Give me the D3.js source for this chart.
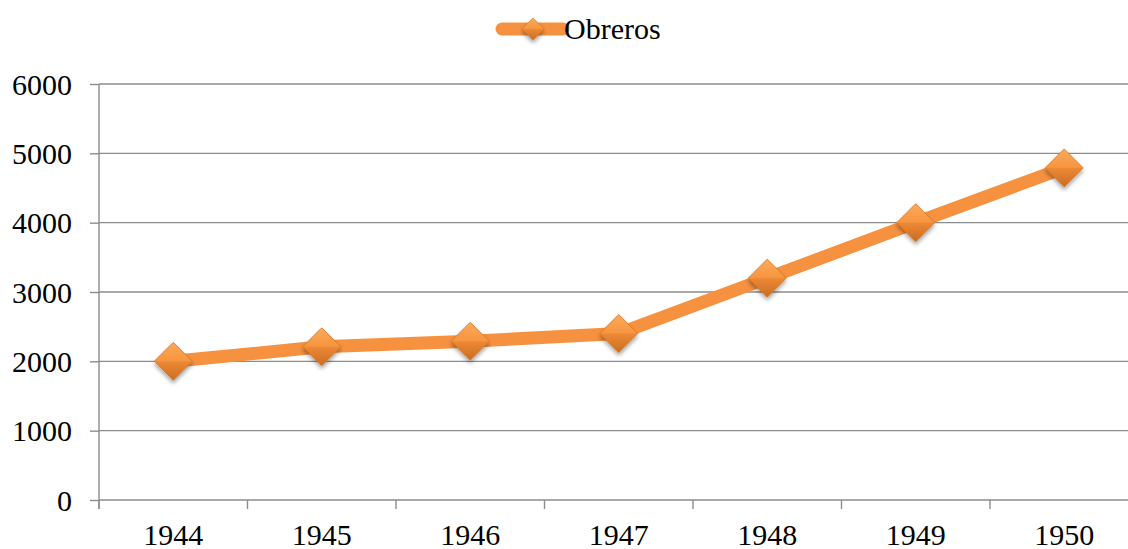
<!DOCTYPE html>
<html>
<head>
<meta charset="utf-8">
<script src="https://cdn.jsdelivr.net/npm/d3@7/dist/d3.min.js"></script>
<style>
  html, body { margin: 0; padding: 0; background: #fff; }
  svg { display: block; }
</style>
</head>
<body>
<svg id="chart" width="1128" height="549"></svg>
<script>
// Obreros por año
const years = ["1944", "1945", "1946", "1947", "1948", "1949", "1950"];
const obreros = [2000, 2210, 2290, 2400, 3200, 4000, 4790];
const yTicks = [0, 1000, 2000, 3000, 4000, 5000, 6000];
const seriesName = "Obreros";

const W = 1128, H = 549;
const plot = { left: 99, right: 1138.5, top: 84, bottom: 500 };
const lineColor = "#F6913F";
const gridColor = "#8C8C8C";
const FONT = "'Liberation Serif'";
const FS = "30px";

const svg = d3.select("#chart");
const defs = svg.append("defs");

// diamond fill: light upper bevel, darker lower half
const grad = defs.append("linearGradient")
  .attr("id", "diamondFill").attr("x1", 0).attr("y1", 0).attr("x2", 0).attr("y2", 1);
grad.append("stop").attr("offset", "0%").attr("stop-color", "#FBA95A");
grad.append("stop").attr("offset", "48%").attr("stop-color", "#F7963F");
grad.append("stop").attr("offset", "52%").attr("stop-color", "#EC8835");
grad.append("stop").attr("offset", "100%").attr("stop-color", "#C96D22");

const shadow = defs.append("filter").attr("id", "markerShadow")
  .attr("x", "-50%").attr("y", "-50%").attr("width", "200%").attr("height", "200%");
shadow.append("feGaussianBlur").attr("in", "SourceAlpha").attr("stdDeviation", 2.2).attr("result", "b");
shadow.append("feOffset").attr("in", "b").attr("dy", 3).attr("result", "o");
shadow.append("feComponentTransfer").attr("in", "o").attr("result", "s")
  .append("feFuncA").attr("type", "linear").attr("slope", 0.35);
const merge = shadow.append("feMerge");
merge.append("feMergeNode").attr("in", "s");
merge.append("feMergeNode").attr("in", "SourceGraphic");

const x = d3.scaleBand().domain(years).range([plot.left, plot.right]).paddingInner(0).paddingOuter(0);
const y = d3.scaleLinear().domain([0, 6000]).range([plot.bottom, plot.top]);

// horizontal gridlines with outward ticks on the value axis
const yAxis = d3.axisLeft(y).tickValues(yTicks).tickSize(9).tickPadding(18).tickFormat(d3.format("d"));
const gy = svg.append("g").attr("transform", `translate(${plot.left},0)`).call(yAxis);
gy.attr("font-family", FONT).attr("font-size", 30);
gy.select(".domain").remove();
gy.selectAll(".tick line").attr("stroke", gridColor).attr("stroke-width", 1.4);
gy.selectAll(".tick text").style("font-family", FONT).style("font-size", FS).attr("fill", "#000").attr("dy", "0.34em");

svg.append("g").selectAll("line").data(yTicks).join("line")
  .attr("x1", plot.left).attr("x2", W)
  .attr("y1", d => y(d)).attr("y2", d => y(d))
  .attr("stroke", gridColor).attr("stroke-width", 1.4);

// vertical value axis line
svg.append("line")
  .attr("x1", plot.left).attr("x2", plot.left)
  .attr("y1", plot.top).attr("y2", plot.bottom + 9)
  .attr("stroke", gridColor).attr("stroke-width", 1.4);

// category boundary ticks
const edges = years.map(d => x(d)).concat([x(years[years.length - 1]) + x.bandwidth()]);
svg.append("g").selectAll("line").data(edges).join("line")
  .attr("x1", d => d).attr("x2", d => d)
  .attr("y1", plot.bottom).attr("y2", plot.bottom + 9)
  .attr("stroke", gridColor).attr("stroke-width", 1.4);

// category labels
const xAxis = d3.axisBottom(x).tickSize(0).tickPadding(0);
const gx = svg.append("g").attr("transform", `translate(0,${plot.bottom})`).call(xAxis);
gx.attr("font-family", FONT).attr("font-size", 30);
gx.select(".domain").remove();
gx.selectAll(".tick text").style("font-family", FONT).style("font-size", FS)
  .attr("fill", "#000").attr("dy", null).attr("y", 45);

const cx = d => x(d) + x.bandwidth() / 2;

// series line
const line = d3.line().x((d, i) => cx(years[i])).y(d => y(d));
svg.append("path").datum(obreros)
  .attr("d", line)
  .attr("fill", "none").attr("stroke", lineColor)
  .attr("stroke-width", 13).attr("stroke-linejoin", "round");

// diamond markers
const diamond = r => `M0,${-r}L${r},0L0,${r}L${-r},0Z`;
svg.append("g").selectAll("path").data(obreros).join("path")
  .attr("transform", (d, i) => `translate(${cx(years[i])},${y(d)})`)
  .attr("d", diamond(19))
  .attr("fill", "url(#diamondFill)")
  .attr("stroke", "#D27728").attr("stroke-width", 0.8)
  .attr("filter", "url(#markerShadow)");

// legend
const lg = svg.append("g").attr("transform", "translate(502,29)");
lg.append("line").attr("x1", 0).attr("x2", 61).attr("y1", 0).attr("y2", 0)
  .attr("stroke", lineColor).attr("stroke-width", 13).attr("stroke-linecap", "round");
lg.append("path").attr("transform", "translate(31,0)").attr("d", diamond(11))
  .attr("fill", "url(#diamondFill)").attr("stroke", "#D27728").attr("stroke-width", 0.6)
  .attr("filter", "url(#markerShadow)");
lg.append("text").attr("x", 62).attr("y", 0).attr("dy", "0.34em")
  .style("font-family", FONT).style("font-size", FS).attr("fill", "#000").text(seriesName);
</script>
</body>
</html>
